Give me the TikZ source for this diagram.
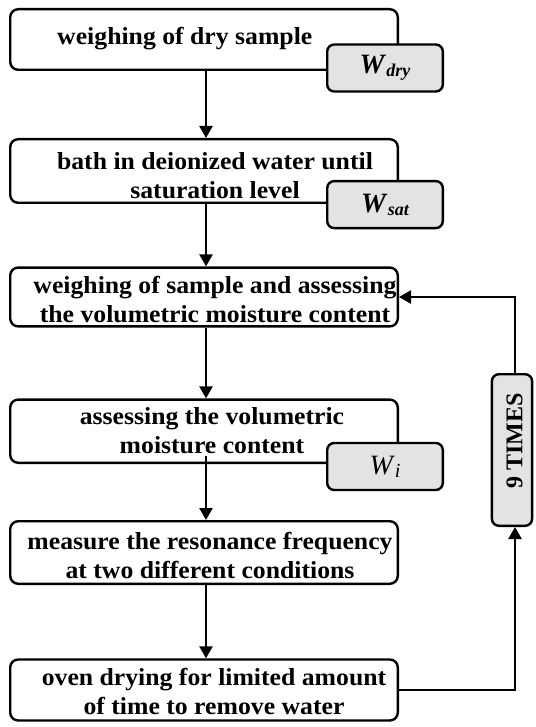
\documentclass[tikz,border=0pt]{standalone}
\usepackage{fontspec}
\setmainfont{Liberation Serif}[FakeStretch=1.05]
\newfontfamily\plainserif{Liberation Serif}
\usetikzlibrary{arrows.meta}
\definecolor{boxgray}{HTML}{E3E3E3}
\tikzset{
  mainbox/.style={draw, line width=2.4pt, rounded corners=8pt, minimum width=387.6pt, inner sep=0pt},
  wbox/.style={draw, line width=2.4pt, rounded corners=7pt, fill=boxgray, minimum width=115.6pt, minimum height=47pt, inner sep=0pt},
  timesbox/.style={draw, line width=2.4pt, rounded corners=7pt, fill=boxgray, minimum width=40.2pt, minimum height=151.6pt, inner sep=0pt},
  txt/.style={font=\bfseries\fontsize{24.5}{29}\selectfont, align=center, inner sep=0pt},
  wtxt/.style={font=\plainserif\fontsize{28}{30}\selectfont, inner sep=0pt},
  arr/.style={line width=2.4pt, -{Triangle[length=12pt,width=13pt]}},
}
\begin{document}
\begin{tikzpicture}[x=1pt,y=1pt]
\useasboundingbox (0,0) rectangle (535,-727);
% main boxes
\node[mainbox, minimum height=60.6pt] (b1) at (204,-39.5) {};
\node[mainbox, minimum height=63.6pt] (b2) at (204,-171) {};
\node[mainbox, minimum height=58.8pt] (b3) at (204,-297) {};
\node[mainbox, minimum height=63.2pt] (b4) at (204,-431.2) {};
\node[mainbox, minimum height=62.6pt] (b5) at (204,-552.5) {};
\node[mainbox, minimum height=61pt]   (b6) at (204,-690) {};
% texts
\node[txt] (t1) at (184.8,-39) {weighing of dry sample};
\node[txt] (t2) at (215,-176) {bath in deionized water until\\saturation level};
\node[txt] (t3) at (215,-300) {weighing of sample and assessing\\the volumetric moisture content};
\node[txt] (t4) at (212,-431) {assessing the volumetric\\moisture content};
\node[txt] (t5) at (210,-555) {measure the resonance frequency\\at two different conditions};
\node[txt] (t6) at (214,-691) {oven drying for limited amount\\of time to remove water};
% connectors
\draw[arr] ([xshift=2pt]b1.south) -- ([xshift=2pt]b2.north);
\draw[arr] ([xshift=2pt]b2.south) -- ([xshift=2pt]b3.north);
\draw[arr] ([xshift=2pt]b3.south) -- ([xshift=2pt]b4.north);
\draw[arr] ([xshift=2pt,yshift=8pt]b4.south) -- ([xshift=2pt]b5.north);
\draw[arr] ([xshift=2pt]b5.south) -- ([xshift=2pt]b6.north);
% W boxes
\node[wbox] (wdry) at (385,-68) {};
\node[wtxt] (lwdry) at (wdry) {\textbf{\textit{W}}\raisebox{-3pt}{\fontsize{18}{20}\selectfont\bfseries\itshape dry}};
\node[wbox] (wsat) at (385,-204.6) {};
\node[wtxt] (lwsat) at (wsat) {\textbf{\textit{W}}\raisebox{-3pt}{\fontsize{18}{20}\selectfont\bfseries\itshape sat}};
\node[wbox] (wi) at (385,-466.5) {};
\node[wtxt] (lwi) at (wi) {\textit{W}\raisebox{-3pt}{\fontsize{20}{22}\selectfont\itshape i}};
% 9 times loop
\node[timesbox] (nine) at (512,-450) {};
\node[txt, rotate=90, font=\plainserif\bfseries\fontsize{24}{28}\selectfont] (lnine) at (514.5,-441) {9 TIMES};
\draw[arr] (b6.east) -| ([xshift=3pt]nine.south);
\draw[arr] ([xshift=3pt]nine.north) |- (b3.east);
\end{tikzpicture}
\end{document}
